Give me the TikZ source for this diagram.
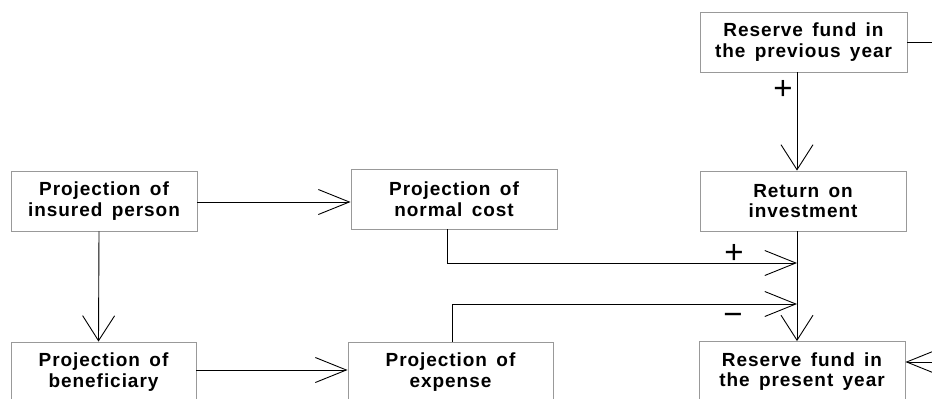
\documentclass[tikz,border=0pt]{standalone}
\usepackage{fontspec}
\usetikzlibrary{arrows.meta}
\newfontfamily\boxfont{Liberation Sans}[LetterSpace=5.0, WordSpace=1.5]
\newfontfamily\signfont{Liberation Sans}
\begin{document}
\begin{tikzpicture}[x=1pt, y=-1pt,
  box/.style={draw=black!40, line width=0.9pt, fill=white, minimum height=60pt,
    inner sep=0pt, align=center, font=\boxfont\bfseries\fontsize{19}{20.5}\selectfont},
  conn/.style={draw=black, line width=0.9pt},
  harrow/.style={conn, -{Straight Barb[length=31pt, width=25pt, line width=0.9pt]}},
  varrow/.style={conn, -{Straight Barb[length=25pt, width=32pt, line width=0.9pt]}},
  sign/.style={font=\signfont\fontsize{33}{33}\selectfont, inner sep=0pt}]
\useasboundingbox (0,0) rectangle (932,399);
\fill[white] (0,0) rectangle (932,399);
\clip (0,0) rectangle (932,399);
% boxes
\node[box, minimum width=207pt] (prev) at (803.5,42) {Reserve fund in\\the previous year};
\node[box, minimum width=206pt] (ret) at (803,201) {Return on\\investment};
\node[box, minimum width=206pt] (present) at (802,371.5) {Reserve fund in\\the present year};
\node[box, minimum width=186pt] (insured) at (104,201) {Projection of\\insured person};
\node[box, minimum width=206pt] (normal) at (454,199) {Projection of\\normal cost};
\node[box, minimum width=185pt] (benef) at (103.5,372) {Projection of\\beneficiary};
\node[box, minimum width=205pt] (expense) at (450.5,372) {Projection of\\expense};
% junctions and free ends
\coordinate (j1) at (797,263);
\coordinate (j2) at (797,304);
\coordinate (e1) at (940,42);
\coordinate (e2) at (940,362);
% connectors
\draw[harrow] (insured.east |- 0,202) -- (normal.west |- 0,202);
\draw[varrow] ([xshift=-5pt]insured.south) -- ([xshift=-5pt]benef.north);
\draw[harrow] (benef.east |- 0,370) -- (expense.west |- 0,370);
\draw[varrow] (prev.south -| j1) -- (ret.north -| j1);
\draw[varrow] (ret.south -| j1) -- (present.north -| j1);
\draw[harrow] (normal.south -| 447,0) |- (j1);
\draw[harrow] (expense.north -| 452,0) |- (j2);
\draw[conn] (prev.east) -- (e1);
\draw[harrow] (e2) -- (present.east |- e2);
% signs
\node[sign] (s1) at (783,90) {+};
\node[sign] (s2) at (734,254) {+};
\node[sign] (s3) at (733,319) {−};
\end{tikzpicture}
\end{document}
